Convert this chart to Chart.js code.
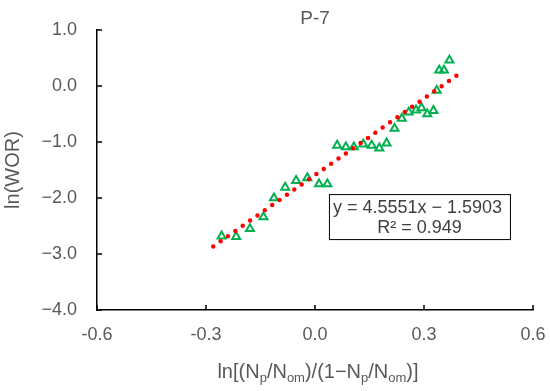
<!DOCTYPE html>
<html>
<head>
<meta charset="utf-8">
<script src="https://cdn.jsdelivr.net/npm/chart.js@4"></script>
<style>
  body { margin: 0; background: #fff; }
  #wrap { width: 550px; height: 391px; }
</style>
</head>
<body>
<div id="wrap"><canvas id="chart" width="550" height="391"></canvas></div>
<script>
// measured points: ln[(Np/Nom)/(1-Np/Nom)] vs ln(WOR)
const xVals = [-0.257, -0.217, -0.179, -0.142, -0.113, -0.082, -0.052, -0.021, 0.011, 0.034,
  0.061, 0.085, 0.107, 0.133, 0.156, 0.177, 0.197, 0.219, 0.239, 0.258,
  0.278, 0.293, 0.309, 0.326, 0.335, 0.342, 0.355, 0.370];
const yVals = [-2.68, -2.69, -2.55, -2.34, -2.00, -1.81, -1.69, -1.64, -1.75, -1.75,
  -1.06, -1.09, -1.09, -1.04, -1.06, -1.11, -1.02, -0.76, -0.58, -0.47,
  -0.43, -0.39, -0.50, -0.44, -0.08, 0.28, 0.28, 0.46];

// linear trendline from the chart
const slope = 4.5551;
const intercept = -1.5903;
const trendX = [-0.28, 0.40];

const xTicks = [-0.6, -0.3, 0.0, 0.3, 0.6];
const yTicks = [-4, -3, -2, -1, 0, 1];

const GRAY = '#595959';
const FONT = "'Liberation Sans', Arial, sans-serif";

const points = xVals.map((x, i) => ({ x: x, y: yVals[i] }));
const trend = trendX.map(x => ({ x: x, y: slope * x + intercept }));

// tick marks pointing into the plot
const innerTicks = {
  id: 'innerTicks',
  afterDraw(chart) {
    const ctx = chart.ctx;
    const { x, y } = chart.scales;
    const a = chart.chartArea;
    ctx.save();
    ctx.strokeStyle = '#000';
    ctx.lineWidth = 1.5;
    ctx.beginPath();
    x.ticks.forEach(t => {
      const px = x.getPixelForValue(t.value);
      ctx.moveTo(px, a.bottom);
      ctx.lineTo(px, a.bottom - 5);
    });
    y.ticks.forEach(t => {
      const py = y.getPixelForValue(t.value);
      ctx.moveTo(a.left, py);
      ctx.lineTo(a.left + 5, py);
    });
    ctx.stroke();
    ctx.restore();
  }
};

// chart title and x axis title (with subscripts)
const texts = {
  id: 'texts',
  afterDraw(chart) {
    const ctx = chart.ctx;
    const a = chart.chartArea;
    const mid = (a.left + a.right) / 2;
    ctx.save();
    ctx.fillStyle = GRAY;
    ctx.textBaseline = 'middle';
    ctx.textAlign = 'center';
    ctx.font = '19px ' + FONT;
    ctx.fillText('P-7', mid, 19);

    const parts = [
      ['ln[(N', 0], ['p', 1], ['/N', 0], ['om', 1], [')/(1\u2212N', 0],
      ['p', 1], ['/N', 0], ['om', 1], [')]', 0]
    ];
    const big = '20px ' + FONT, small = '13px ' + FONT;
    let w = 0;
    parts.forEach(p => { ctx.font = p[1] ? small : big; w += ctx.measureText(p[0]).width; });
    let cx = mid - w / 2 + 3;
    const cy = 372;
    ctx.textAlign = 'left';
    parts.forEach(p => {
      ctx.font = p[1] ? small : big;
      ctx.fillText(p[0], cx, p[1] ? cy + 6 : cy);
      cx += ctx.measureText(p[0]).width;
    });
    ctx.restore();
  }
};

// equation label box
const eqBox = {
  id: 'eqBox',
  afterDraw(chart) {
    const ctx = chart.ctx;
    const a = chart.chartArea;
    const bx = a.left + 0.532 * (a.right - a.left);
    const by = a.top + 0.586 * (a.bottom - a.top);
    const bw = 181, bh = 45;
    ctx.save();
    ctx.fillStyle = '#fff';
    ctx.fillRect(bx, by, bw, bh);
    ctx.strokeStyle = '#000';
    ctx.lineWidth = 1;
    ctx.strokeRect(bx + 0.5, by + 0.5, bw, bh);
    ctx.fillStyle = '#404040';
    ctx.font = '18px ' + FONT;
    ctx.textBaseline = 'middle';
    ctx.textAlign = 'left';
    ctx.fillText('y = ' + slope.toFixed(4) + 'x \u2212 ' + Math.abs(intercept).toFixed(4), bx + 4, by + 14);
    ctx.textAlign = 'center';
    ctx.fillText('R\u00b2 = 0.949', bx + bw / 2, by + 34);
    ctx.restore();
  }
};

new Chart(document.getElementById('chart'), {
  type: 'scatter',
  data: {
    datasets: [
      {
        label: 'Linear',
        data: trend,
        showLine: true,
        pointRadius: 0,
        borderColor: '#FF0000',
        borderWidth: 4.5,
        borderDash: [0, 9],
        borderCapStyle: 'round'
      },
      {
        label: 'P-7',
        data: points,
        pointStyle: 'triangle',
        pointRadius: 4.6,
        borderWidth: 2,
        borderColor: '#00B050',
        backgroundColor: 'rgba(255,255,255,0)'
      }
    ]
  },
  options: {
    responsive: false,
    animation: false,
    devicePixelRatio: 1,
    layout: { padding: { left: 0, right: 17, top: 30, bottom: 0 } },
    plugins: {
      legend: { display: false },
      tooltip: { enabled: false },
      title: { display: false }
    },
    scales: {
      x: {
        type: 'linear',
        min: -0.6,
        max: 0.6,
        afterBuildTicks: s => { s.ticks = xTicks.map(v => ({ value: v })); },
        afterFit: s => { s.height = 81; s.paddingLeft = 0; s.paddingRight = 0; },
        grid: { drawOnChartArea: false, drawTicks: false },
        border: { display: true, color: '#000', width: 1.5 },
        ticks: {
          color: GRAY,
          padding: 14,
          font: { family: FONT, size: 18 },
          callback: v => v.toFixed(1)
        }
      },
      y: {
        type: 'linear',
        min: -4,
        max: 1,
        afterBuildTicks: s => { s.ticks = yTicks.map(v => ({ value: v })); },
        afterFit: s => { s.width = 97; s.paddingTop = 0; s.paddingBottom = 0; },
        grid: { drawOnChartArea: false, drawTicks: false },
        border: { display: true, color: '#000', width: 1.5 },
        ticks: {
          color: GRAY,
          padding: 20,
          font: { family: FONT, size: 18 },
          callback: v => (v < 0 ? '\u2212' : '') + Math.abs(v).toFixed(1)
        },
        title: {
          display: true,
          text: 'ln(WOR)',
          color: GRAY,
          font: { family: FONT, size: 20 },
          padding: { top: 1, bottom: 0 }
        }
      }
    }
  },
  plugins: [innerTicks, eqBox, texts]
});
</script>
</body>
</html>
